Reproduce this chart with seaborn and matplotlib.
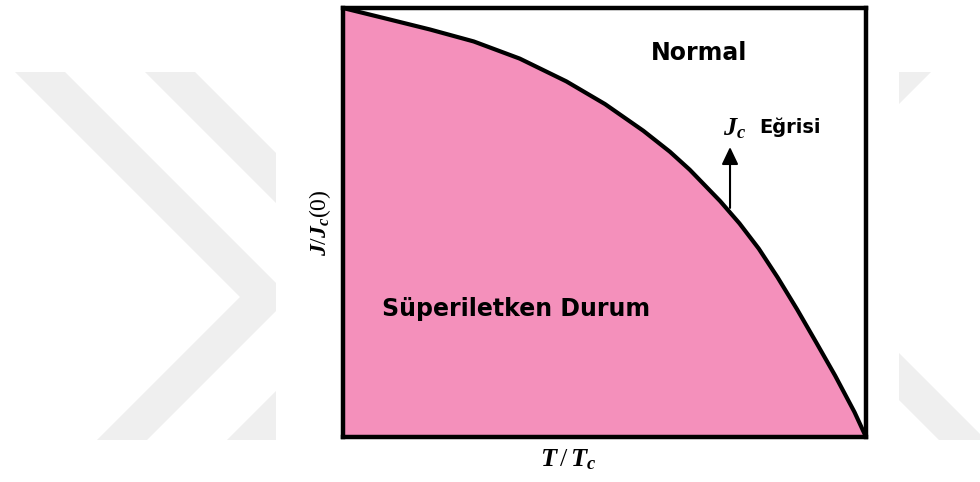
import numpy as np
import matplotlib
matplotlib.use("Agg")
import matplotlib.pyplot as plt
from matplotlib.patches import Polygon, Rectangle
import seaborn as sns
import pandas as pd

# Critical current density versus reduced temperature
T_ratio = [0.0, 0.080, 0.166, 0.250, 0.338, 0.427, 0.501, 0.574, 0.625, 0.663,
           0.721, 0.758, 0.795, 0.831, 0.868, 0.905, 0.941, 0.978, 1.0]
J_ratio = [1.0, 0.976, 0.950, 0.922, 0.882, 0.829, 0.776, 0.714, 0.665, 0.623,
           0.550, 0.498, 0.439, 0.372, 0.298, 0.220, 0.143, 0.058, 0.0]

region_normal = "Normal"
region_super = "Süperiletken Durum"
curve_label = "Eğrisi"
x_label = r"$T\,/\,T_c$"
y_label = r"$J/J_c(0)$"

sns.set_style("white")
plt.rcParams["font.family"] = ["DejaVu Sans"]
plt.rcParams["text.color"] = "black"
plt.rcParams["axes.labelcolor"] = "black"
plt.rcParams["mathtext.fontset"] = "custom"
plt.rcParams["mathtext.it"] = "Liberation Serif:italic:bold"
plt.rcParams["mathtext.rm"] = "Liberation Serif"
plt.rcParams["mathtext.bf"] = "Liberation Serif:bold"

W, H = 980, 482
fig = plt.figure(figsize=(W / 100, H / 100), dpi=100)


def px(x, y):
    return (x / W, 1 - y / H)


# faint chevron background
grey = "#efefef"
chevrons = [
    [(15, 72), (65, 72), (290, 297), (147, 440), (97, 440), (240, 297)],
    [(145, 72), (195, 72), (420, 297), (277, 440), (227, 440), (370, 297)],
    [(931, 72), (884, 72), (659, 297), (802, 440), (849, 440), (706, 297)],
    [(796, 297), (843, 297), (986, 440), (939, 440)],
]
for pts in chevrons:
    fig.add_artist(Polygon([px(*p) for p in pts], closed=True, facecolor=grey,
                           edgecolor="none", transform=fig.transFigure, zorder=0))
fig.add_artist(Rectangle(px(276, 482), 623 / W, 1.0, facecolor="white",
                         edgecolor="none", transform=fig.transFigure, zorder=0.5))

ax = fig.add_axes([343 / W, 1 - 437 / H, 523 / W, 429 / H])
ax.set_zorder(1)
ax.patch.set_alpha(0)

df = pd.DataFrame({"T": T_ratio, "J": J_ratio})
ax.fill_between(df["T"], df["J"], 0, color="#f490bb", lw=0, zorder=1)
sns.lineplot(data=df, x="T", y="J", ax=ax, color="black", lw=3.0,
             sort=False, estimator=None, zorder=2, solid_capstyle="round",
             solid_joinstyle="round")

ax.set_xlim(0, 1)
ax.set_ylim(0, 1)
ax.set_xticks([])
ax.set_yticks([])
for s in ax.spines.values():
    s.set_visible(True)
    s.set_color("black")
    s.set_linewidth(3.2)
    s.set_zorder(3)

ax.set_xlabel(x_label, fontsize=19)
ax.xaxis.set_label_coords(0.43, -0.022)
ax.set_ylabel(y_label, fontsize=17)
ax.yaxis.set_label_coords(-0.02, 0.5)

ax.text(0.589, 0.879, region_normal, fontsize=17, fontweight="bold",
        ha="left", va="baseline", zorder=4)
ax.text(0.075, 0.282, region_super, fontsize=17, fontweight="bold",
        ha="left", va="baseline", zorder=4)

# label and arrow pointing at the curve
ax.text(0.727, 0.704, r"$J_c$", fontsize=19, ha="left", va="baseline", zorder=4)
ax.text(0.795, 0.709, curve_label, fontsize=14, fontweight="bold",
        ha="left", va="baseline", zorder=4)
ax.annotate("", xy=(0.740, 0.676), xytext=(0.740, 0.534),
            arrowprops=dict(arrowstyle="-|>,head_length=1.05,head_width=0.5",
                            color="black", lw=1.5, shrinkA=0, shrinkB=0),
            zorder=4)

fig.savefig("out.png", dpi=100)
